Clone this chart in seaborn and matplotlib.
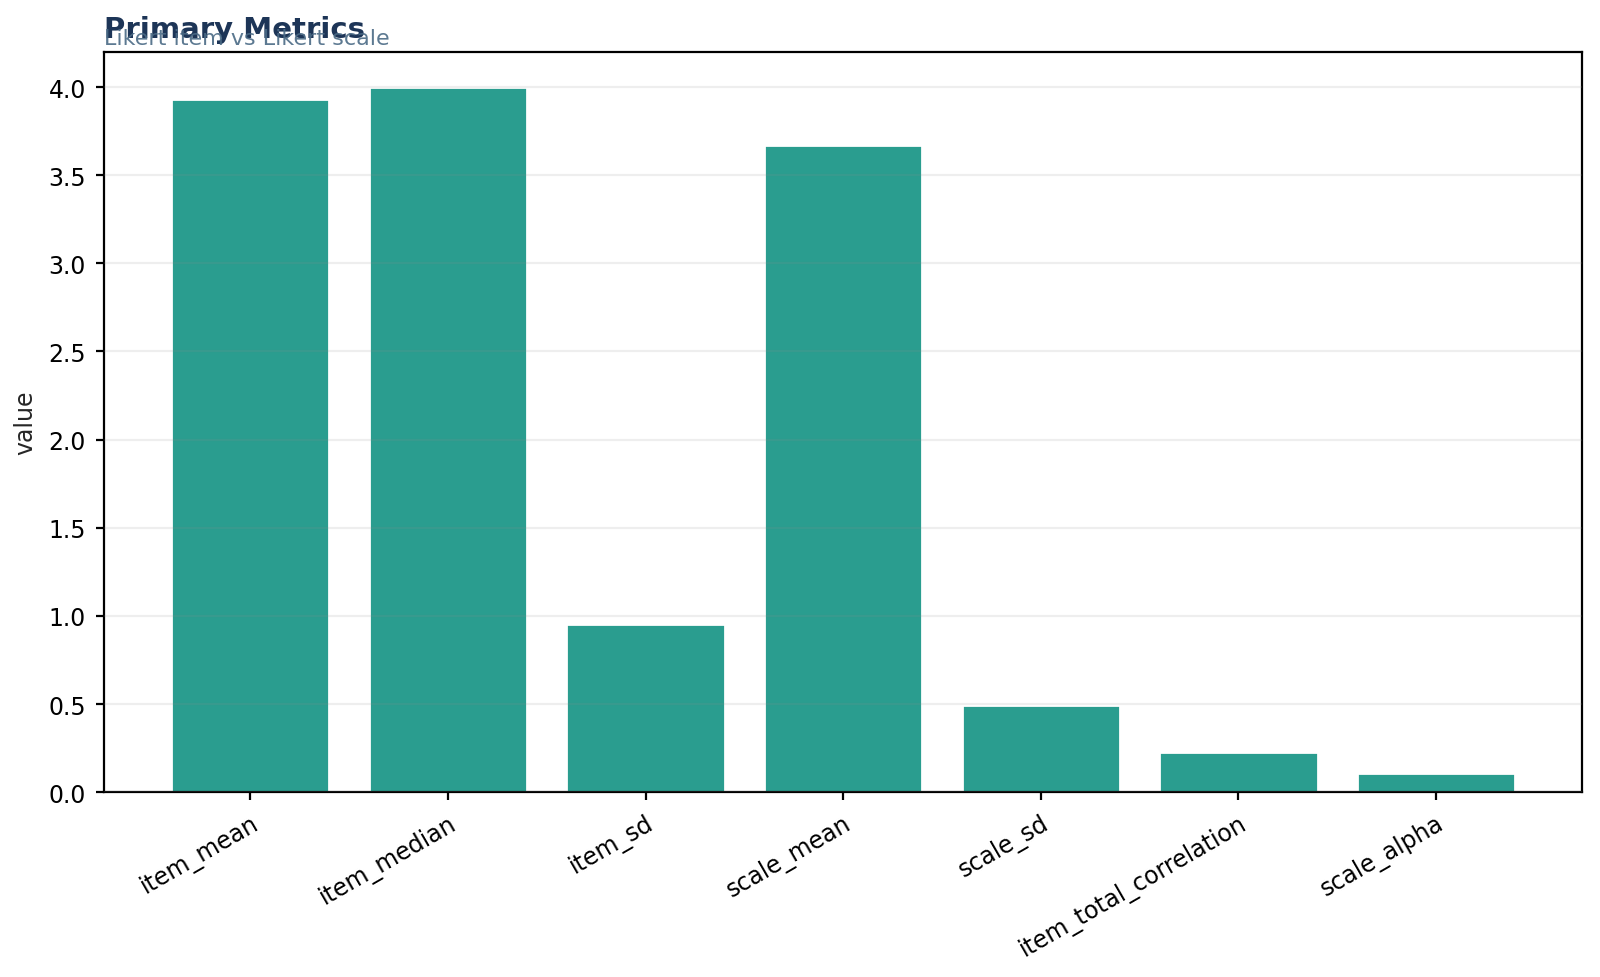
import matplotlib
matplotlib.use("Agg")
import matplotlib.pyplot as plt
import seaborn as sns
import pandas as pd

metrics = ["item_mean", "item_median", "item_sd", "scale_mean", "scale_sd",
           "item_total_correlation", "scale_alpha"]
values = [3.932, 4.00, 0.952, 3.674, 0.496, 0.227, 0.11]

df = pd.DataFrame({"metric": metrics, "value": values})

sns.set_style("white")
plt.rcParams["font.family"] = ["DejaVu Sans"]

fig, ax = plt.subplots(figsize=(8, 4.89), dpi=200)
sns.barplot(data=df, x="metric", y="value", color="#2a9d8f", saturation=1,
            width=0.8, ax=ax, zorder=2)
ax.set_axisbelow(False)
ax.yaxis.grid(True, color="#8e8e8e", linewidth=0.8, alpha=0.15, zorder=3)
ax.set_xlabel("")
ax.set_ylabel("value", fontsize=8.5)
ax.tick_params(axis="both", labelsize=8.5, length=3, width=0.8, bottom=True, left=True,
               colors="black")
plt.setp(ax.get_xticklabels(), rotation=30, ha="right", rotation_mode="anchor")
for s in ax.spines.values():
    s.set_visible(True)
    s.set_color("black")
    s.set_linewidth(0.8)
ax.set_ylim(0, 4.2)
ax.set_xlim(-0.74, 6.74)

ax.text(0.0, 1.012, "Primary Metrics", transform=ax.transAxes, fontsize=10.5,
        fontweight="bold", color="#1d3557", ha="left", va="bottom")
ax.text(0.0, 1.005, "Likert item vs Likert scale", transform=ax.transAxes, fontsize=8,
        color="#4a6a85", ha="left", va="bottom", alpha=0.9)

fig.subplots_adjust(left=0.065, right=0.989, top=0.946, bottom=0.189)
fig.savefig("out.png", dpi=200)
